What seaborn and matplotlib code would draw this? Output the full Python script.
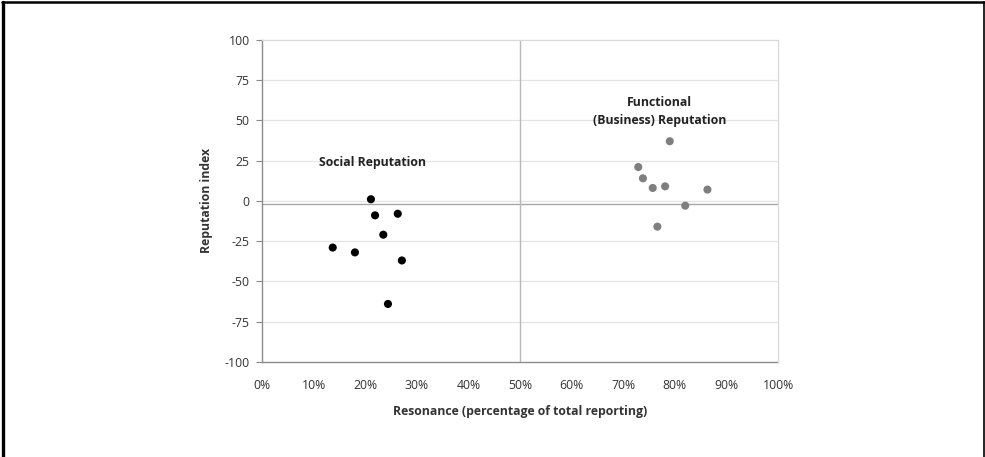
import matplotlib.pyplot as plt
import seaborn as sns
import pandas as pd
from matplotlib.ticker import PercentFormatter

# valores
social_resonance = [21.1, 21.9, 26.3, 23.5, 13.7, 18.0, 27.1, 24.4]
social_index = [1, -9, -8, -21, -29, -32, -37, -64]
functional_resonance = [79.0, 72.9, 73.8, 75.7, 78.1, 86.3, 82.0, 76.6]
functional_index = [37, 21, 14, 8, 9, 7, -3, -16]
ref_index = -2
ref_resonance = 50

df = pd.DataFrame({
    "Resonance": social_resonance + functional_resonance,
    "Index": social_index + functional_index,
    "Grupo": ["Social"] * len(social_resonance) + ["Functional"] * len(functional_resonance),
})

sns.set_style("white")
plt.rcParams['font.family'] = ['Open Sans', 'DejaVu Sans']
plt.rcParams['axes.unicode_minus'] = False

fig = plt.figure(figsize=(9.85, 4.57), dpi=100)
ax = fig.add_axes([0.266, 0.208, 0.524, 0.705])

for y in range(-75, 100, 25):
    ax.axhline(y, color='#e4e4e4', lw=0.9, zorder=0)
ax.axhline(ref_index, color='#a8a8a8', lw=1.0, zorder=1)
ax.axvline(ref_resonance, color='#b8b8b8', lw=1.0, zorder=1)

sns.scatterplot(data=df, x="Resonance", y="Index", hue="Grupo",
                palette={"Social": "black", "Functional": "#7f7f7f"},
                s=34, edgecolor='none', legend=False, ax=ax, zorder=3)

ax.set_xlim(0, 100)
ax.set_ylim(-100, 100)
ax.set_xticks(range(0, 101, 10))
ax.set_yticks(range(-100, 101, 25))
ax.xaxis.set_major_formatter(PercentFormatter(decimals=0))
ax.tick_params(axis='both', labelsize=8.8, colors='#333333')
ax.tick_params(axis='y', length=4, width=0.8, color='#888888', direction='out', left=True, pad=5)
ax.tick_params(axis='x', length=0, pad=12)

for side in ['left', 'bottom']:
    ax.spines[side].set_color('#8c8c8c')
    ax.spines[side].set_linewidth(1.0)
for side in ['top', 'right']:
    ax.spines[side].set_color('#d9d9d9')
    ax.spines[side].set_linewidth(0.9)
ax.spines['bottom'].set_visible(False)
ax.axhline(-100, color='#8c8c8c', lw=1.0, zorder=1, clip_on=False)

ax.set_xlabel("Resonance (percentage of total reporting)", fontsize=8.8,
              fontweight='bold', color='#333333', labelpad=10)
ax.set_ylabel("Reputation index", fontsize=8.8, fontweight='bold',
              color='#333333', labelpad=8)

ax.text(21.5, 20, "Social Reputation", fontsize=8.8, fontweight='bold',
        ha='center', va='bottom', color='#222222')
ax.text(77.0, 46, "Functional\n(Business) Reputation", fontsize=8.8,
        fontweight='bold', ha='center', va='bottom', color='#222222',
        linespacing=1.45)

# moldura externa (esquerda, topo, direita)
fig.add_artist(plt.Line2D([0.0035, 0.0035], [0, 0.996], transform=fig.transFigure,
                          color='black', lw=2.4))
fig.add_artist(plt.Line2D([0.002, 1.0], [0.995, 0.995], transform=fig.transFigure,
                          color='black', lw=1.8))
fig.add_artist(plt.Line2D([0.9985, 0.9985], [0, 0.996], transform=fig.transFigure,
                          color='black', lw=1.2))

plt.savefig("out.png", dpi=100)
plt.close()
